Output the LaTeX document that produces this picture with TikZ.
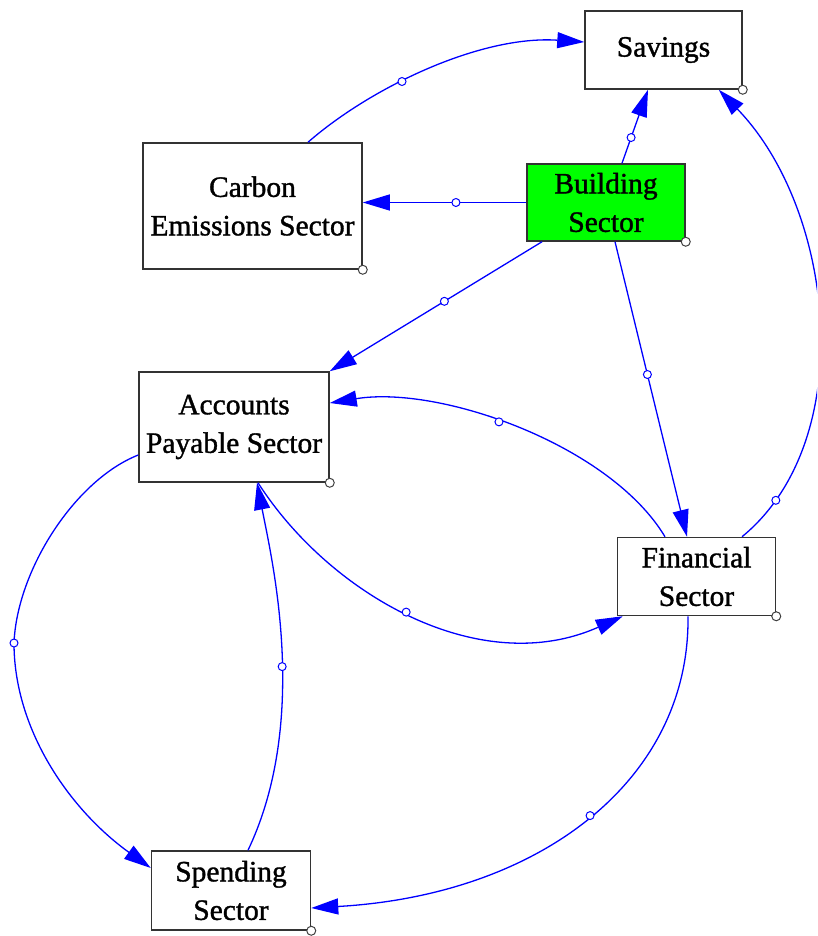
\documentclass[tikz,border=0pt]{standalone}
\usepackage{fontspec}
\setmainfont{Liberation Serif}
\newfontface\lblfont{Liberation Serif}[FakeBold=1.2]
\usetikzlibrary{arrows.meta,calc}
\begin{document}
\begin{tikzpicture}[x=1pt,y=-1pt,
  box/.style={draw=black!80, line width=1.5pt, fill=white, inner sep=0pt, align=center,
    font=\lblfont\fontsize{29.5}{38.5}\selectfont},
  link/.style={draw=blue, line width=1.3pt, -{Triangle[length=27pt,width=16pt]}},
  mdot/.style={circle, draw=blue, fill=white, line width=1pt, inner sep=0pt, minimum size=8pt},
  cdot/.style={circle, draw=black!75, fill=white, line width=1pt, inner sep=0pt, minimum size=9pt}]
\useasboundingbox (0,0) rectangle (817,936);
\clip (0,0) rectangle (817,936);

\node[box, minimum width=157pt, minimum height=78pt] (sav) at (663.5,50) {Savings};
\node[box, fill={rgb,255:red,0;green,255;blue,0}, minimum width=158pt, minimum height=77pt] (bld) at (606,202.5) {Building\\Sector};
\node[box, minimum width=219pt, minimum height=126pt] (carb) at (252.5,206) {Carbon\\Emissions Sector};
\node[box, minimum width=190pt, minimum height=110pt] (acc) at (234,427) {Accounts\\Payable Sector};
\node[box, minimum width=158pt, minimum height=78pt] (fin) at (696.5,576.5) {Financial\\Sector};
\node[box, minimum width=159pt, minimum height=79pt] (spd) at (231,890.5) {Spending\\Sector};

% connectors
\draw[link] ([xshift=55.5pt]carb.north) .. controls (370,88) and (480,35) .. ([yshift=8pt]sav.west) node[mdot,pos=0.4]{};
\draw[link] (bld.west) -- (bld.west -| carb.east) node[mdot,pos=0.43]{};
\draw[link] ([xshift=16pt]bld.north) -- ([xshift=-15.5pt]sav.south) node[mdot,pos=0.35]{};
\draw[link] ([xshift=-64pt]bld.south) -- (acc.north east) node[mdot,pos=0.46]{};
\draw[link] ([xshift=9pt]bld.south) -- ([xshift=-9.5pt]fin.north) node[mdot,pos=0.45]{};
\draw[link] ([xshift=-31.5pt]fin.north) .. controls (610,445) and (440,385) .. ([yshift=24pt]acc.east) node[mdot,pos=0.55]{};
\draw[link] ([xshift=45.5pt]fin.north) .. controls (860,440) and (835,210) .. ([xshift=-24pt]sav.south east) node[mdot,pos=0.11]{};
\draw[link] ([xshift=24pt]acc.south) .. controls (330,595) and (480,680) .. ([xshift=6pt]fin.south west) node[mdot,pos=0.48]{};
\draw[link] ([yshift=-28pt]acc.west) .. controls (75,480) and (17,570) .. (14,643) node[mdot]{}
   .. controls (14,730) and (70,810) .. ([yshift=22.5pt]spd.west);
\draw[link] ([xshift=17pt]spd.north) .. controls (310,720) and (272,560) .. ([xshift=23pt]acc.south) node[mdot,pos=0.45]{};
\draw[link] ([xshift=-8.5pt]fin.south) .. controls (690,780) and (540,895) .. ([yshift=-17.5pt]spd.east) node[mdot,pos=0.49]{};

% corner markers
\foreach \n in {sav,bld,carb,acc,fin,spd}
  \node[cdot] at (\n.south east) {};
\end{tikzpicture}
\end{document}
